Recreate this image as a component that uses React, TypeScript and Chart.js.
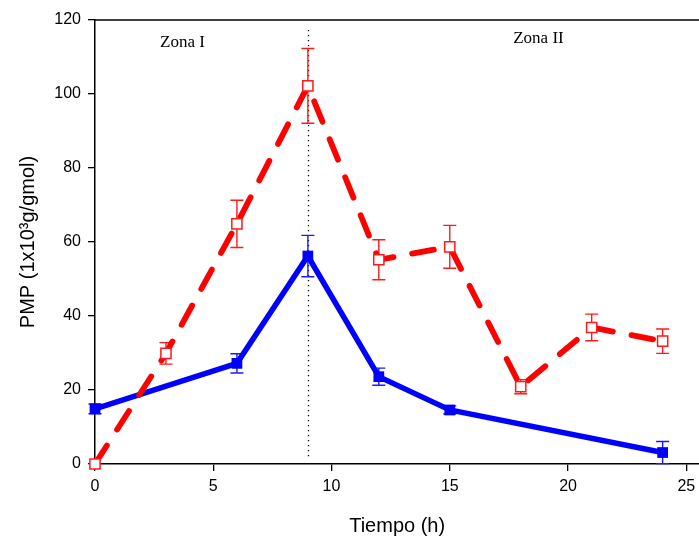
import React, { useEffect, useRef } from "react";
import { Chart, registerables } from "chart.js";

Chart.register(...registerables);

const timeBlue = [0, 6, 9, 12, 15, 24];
const blueVals = [14.9, 27.2, 56.2, 23.6, 14.6, 3.1];
const blueErr = [1.3, 2.6, 5.6, 2.3, 1.1, 3.0];

const timeRed = [0, 3, 6, 9, 12, 15, 18, 21, 24];
const redVals = [0, 29.9, 64.9, 102.2, 55.2, 58.7, 20.9, 36.9, 33.2];
const redErr = [0, 2.9, 6.4, 10.1, 5.4, 5.8, 1.9, 3.6, 3.3];

const xTicks = [0, 5, 10, 15, 20, 25];
const yTicks = [0, 20, 40, 60, 80, 100, 120];

const zoneLabels = ["Zona I", "Zona II"];
const zoneX = [3.7, 18.75];
const zoneY = [114.0, 114.9];
const dividerX = 9;
const dividerTop = 117.3;

const errorBarPlugin = {
  id: "errorBars",
  beforeDatasetsDraw(chart: any) {
    const ctx = chart.ctx;
    const xs = chart.scales.x;
    const ys = chart.scales.y;
    const area = chart.chartArea;
    // dotted divider
    ctx.save();
    ctx.strokeStyle = "#000";
    ctx.lineWidth = 1.3;
    ctx.setLineDash([1.3, 3.7]);
    const px = Math.round(xs.getPixelForValue(dividerX)) + 0.5;
    ctx.beginPath();
    ctx.moveTo(px, ys.getPixelForValue(dividerTop));
    ctx.lineTo(px, ys.getPixelForValue(2));
    ctx.stroke();
    ctx.restore();

    const sets = [
      { t: timeBlue, v: blueVals, e: blueErr, c: "#1a1aff" },
      { t: timeRed, v: redVals, e: redErr, c: "#ff1a1a" },
    ];
    ctx.save();
    ctx.lineWidth = 1.4;
    for (const s of sets) {
      ctx.strokeStyle = s.c;
      for (let i = 0; i < s.t.length; i++) {
        if (!s.e[i]) continue;
        const x = xs.getPixelForValue(s.t[i]);
        const yt = ys.getPixelForValue(s.v[i] + s.e[i]);
        const yb = ys.getPixelForValue(s.v[i] - s.e[i]);
        ctx.beginPath();
        ctx.moveTo(x, yt);
        ctx.lineTo(x, yb);
        ctx.moveTo(x - 6.5, yt);
        ctx.lineTo(x + 6.5, yt);
        ctx.moveTo(x - 6.5, yb);
        ctx.lineTo(x + 6.5, yb);
        ctx.stroke();
      }
    }
    ctx.restore();

    // top frame line
    ctx.save();
    ctx.strokeStyle = "#000";
    ctx.lineWidth = 1.5;
    ctx.beginPath();
    ctx.moveTo(area.left, area.top);
    ctx.lineTo(area.right, area.top);
    ctx.stroke();
    ctx.restore();

    // zone labels
    ctx.save();
    ctx.fillStyle = "#000";
    ctx.font = "17px 'Liberation Serif', 'Times New Roman', serif";
    ctx.textAlign = "center";
    ctx.textBaseline = "middle";
    for (let i = 0; i < zoneLabels.length; i++) {
      ctx.fillText(zoneLabels[i], xs.getPixelForValue(zoneX[i]), ys.getPixelForValue(zoneY[i]));
    }
    ctx.restore();
  },
};

export default function App() {
  const ref = useRef<HTMLCanvasElement | null>(null);
  useEffect(() => {
    if (!ref.current) return;
    const chart = new Chart(ref.current, {
      type: "line",
      data: {
        datasets: [
          {
            label: "red",
            data: timeRed.map((t, i) => ({ x: t, y: redVals[i] })),
            borderColor: "#ff0000",
            borderWidth: 5.8,
            borderDash: [22, 19],
            borderCapStyle: "round",
            pointStyle: "rect",
            pointRadius: 7.2,
            pointBorderWidth: 1.5,
            pointBorderColor: "#ff1a1a",
            pointBackgroundColor: "#ffffff",
            fill: false,
            clip: false,
            order: 0,
          },
          {
            label: "blue",
            data: timeBlue.map((t, i) => ({ x: t, y: blueVals[i] })),
            borderColor: "#0000ff",
            borderWidth: 5.5,
            pointStyle: "rect",
            pointRadius: 7.6,
            pointBorderWidth: 0,
            pointBackgroundColor: "#0000ff",
            fill: false,
            clip: false,
            order: 1,
          },
        ] as any,
      },
      options: {
        animation: false,
        responsive: false,
        layout: { padding: { top: 20, right: 0, left: 0, bottom: 0 } },
        plugins: {
          legend: { display: false },
          tooltip: { enabled: false },
        },
        scales: {
          x: {
            type: "linear",
            min: 0,
            max: 25.55,
            afterFit: (s: any) => {
              s.height = 74;
            },
            afterBuildTicks: (s: any) => {
              s.ticks = xTicks.map((v) => ({ value: v }));
            },
            ticks: {
              color: "#000",
              font: { family: "'Liberation Sans', Arial, sans-serif", size: 16 },
              padding: 6,
              maxRotation: 0,
            },
            grid: {
              drawOnChartArea: false,
              tickLength: 7,
              color: "#000",
              lineWidth: 1.3,
            },
            border: { display: true, color: "#000", width: 1.5 },
            title: {
              display: true,
              text: "Tiempo (h)",
              color: "#000",
              font: { family: "'Liberation Sans', Arial, sans-serif", size: 20 },
              padding: { top: 0, bottom: 0 },
            },
          },
          y: {
            type: "linear",
            min: 0,
            max: 120,
            afterFit: (s: any) => {
              s.width = 95;
            },
            afterBuildTicks: (s: any) => {
              s.ticks = yTicks.map((v) => ({ value: v }));
            },
            ticks: {
              color: "#000",
              font: { family: "'Liberation Sans', Arial, sans-serif", size: 16 },
              padding: 7,
            },
            grid: {
              drawOnChartArea: false,
              tickLength: 7,
              color: "#000",
              lineWidth: 1.3,
            },
            border: { display: true, color: "#000", width: 1.5 },
            title: {
              display: true,
              text: "PMP (1x10³g/gmol)",
              color: "#000",
              font: { family: "'Liberation Sans', Arial, sans-serif", size: 20 },
              padding: { top: 16, bottom: 0 },
            },
          },
        },
      } as any,
      plugins: [errorBarPlugin],
    });
    return () => chart.destroy();
  }, []);
  return (
    <div style={{ position: "absolute", left: 0, top: 0, width: 699, height: 538, overflow: "hidden" }}>
      <canvas ref={ref} width={708} height={538} style={{ width: 708, height: 538, display: "block" }} />
    </div>
  );
}
